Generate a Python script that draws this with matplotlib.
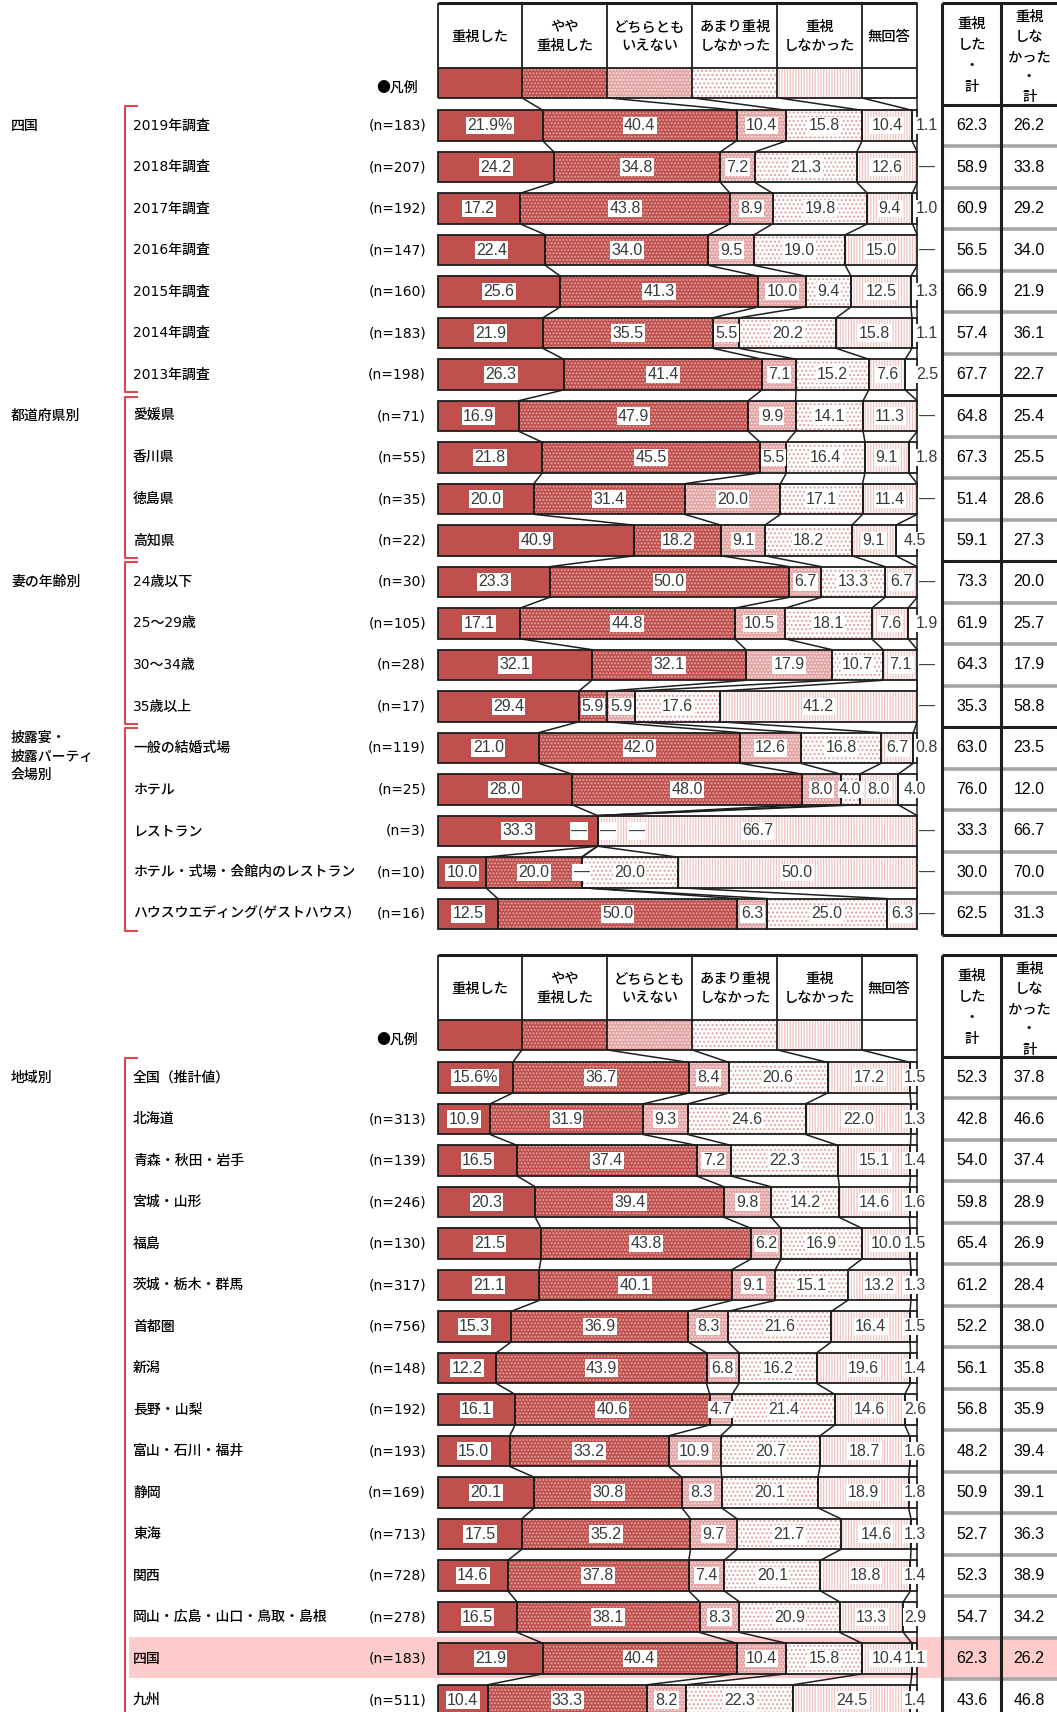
import itertools
import numpy as np
import matplotlib
matplotlib.use("Agg")
import matplotlib.pyplot as plt

plt.rcParams['font.family'] = ['Noto Sans CJK JP', 'DejaVu Sans']
plt.rcParams['hatch.linewidth'] = 0.9

# ---------------- data ----------------
series_names = ["重視した", "やや\n重視した", "どちらとも\nいえない", "あまり重視\nしなかった", "重視\nしなかった", "無回答"]
total_names = ["重視\nした\n・\n計", "重視\nしな\nかった\n・\n計"]

top_labels = ["2019年調査", "2018年調査", "2017年調査", "2016年調査", "2015年調査", "2014年調査", "2013年調査",
              "愛媛県", "香川県", "徳島県", "高知県",
              "24歳以下", "25〜29歳", "30〜34歳", "35歳以上",
              "一般の結婚式場", "ホテル", "レストラン", "ホテル・式場・会館内のレストラン", "ハウスウエディング(ゲストハウス)"]
top_n = ["183", "207", "192", "147", "160", "183", "198", "71", "55", "35", "22",
         "30", "105", "28", "17", "119", "25", "3", "10", "16"]
top_groups = ["四国", "都道府県別", "妻の年齢別", "披露宴・\n披露パーティ\n会場別"]
top_group_sizes = [7, 4, 4, 5]
top_juushi = [21.9, 24.2, 17.2, 22.4, 25.6, 21.9, 26.3, 16.9, 21.8, 20.0, 40.9, 23.3, 17.1, 32.1, 29.4, 21.0, 28.0, 33.3, 10.0, 12.5]
top_yaya = [40.4, 34.8, 43.8, 34.0, 41.3, 35.5, 41.4, 47.9, 45.5, 31.4, 18.2, 50.0, 44.8, 32.1, 5.9, 42.0, 48.0, 0.0, 20.0, 50.0]
top_dochira = [10.4, 7.2, 8.9, 9.5, 10.0, 5.5, 7.1, 9.9, 5.5, 20.0, 9.1, 6.7, 10.5, 17.9, 5.9, 12.6, 8.0, 0.0, 0.0, 6.3]
top_amari = [15.8, 21.3, 19.8, 19.0, 9.4, 20.2, 15.2, 14.1, 16.4, 17.1, 18.2, 13.3, 18.1, 10.7, 17.6, 16.8, 4.0, 0.0, 20.0, 25.0]
top_shinai = [10.4, 12.6, 9.4, 15.0, 12.5, 15.8, 7.6, 11.3, 9.1, 11.4, 9.1, 6.7, 7.6, 7.1, 41.2, 6.7, 8.0, 66.7, 50.0, 6.3]
top_mukaito = [1.1, 0.0, 1.0, 0.0, 1.3, 1.1, 2.5, 0.0, 1.8, 0.0, 4.5, 0.0, 1.9, 0.0, 0.0, 0.8, 4.0, 0.0, 0.0, 0.0]
top_total_yes = [62.3, 58.9, 60.9, 56.5, 66.9, 57.4, 67.7, 64.8, 67.3, 51.4, 59.1, 73.3, 61.9, 64.3, 35.3, 63.0, 76.0, 33.3, 30.0, 62.5]
top_total_no = [26.2, 33.8, 29.2, 34.0, 21.9, 36.1, 22.7, 25.4, 25.5, 28.6, 27.3, 20.0, 25.7, 17.9, 58.8, 23.5, 12.0, 66.7, 70.0, 31.3]

bottom_labels = ["全国（推計値）", "北海道", "青森・秋田・岩手", "宮城・山形", "福島", "茨城・栃木・群馬", "首都圏", "新潟",
                 "長野・山梨", "富山・石川・福井", "静岡", "東海", "関西", "岡山・広島・山口・鳥取・島根", "四国", "九州"]
bottom_n = ["", "313", "139", "246", "130", "317", "756", "148", "192", "193", "169", "713", "728", "278", "183", "511"]
bottom_groups = ["地域別"]
bottom_group_sizes = [16]
bottom_juushi = [15.6, 10.9, 16.5, 20.3, 21.5, 21.1, 15.3, 12.2, 16.1, 15.0, 20.1, 17.5, 14.6, 16.5, 21.9, 10.4]
bottom_yaya = [36.7, 31.9, 37.4, 39.4, 43.8, 40.1, 36.9, 43.9, 40.6, 33.2, 30.8, 35.2, 37.8, 38.1, 40.4, 33.3]
bottom_dochira = [8.4, 9.3, 7.2, 9.8, 6.2, 9.1, 8.3, 6.8, 4.7, 10.9, 8.3, 9.7, 7.4, 8.3, 10.4, 8.2]
bottom_amari = [20.6, 24.6, 22.3, 14.2, 16.9, 15.1, 21.6, 16.2, 21.4, 20.7, 20.1, 21.7, 20.1, 20.9, 15.8, 22.3]
bottom_shinai = [17.2, 22.0, 15.1, 14.6, 10.0, 13.2, 16.4, 19.6, 14.6, 18.7, 18.9, 14.6, 18.8, 13.3, 10.4, 24.5]
bottom_mukaito = [1.5, 1.3, 1.4, 1.6, 1.5, 1.3, 1.5, 1.4, 2.6, 1.6, 1.8, 1.3, 1.4, 2.9, 1.1, 1.4]
bottom_total_yes = [52.3, 42.8, 54.0, 59.8, 65.4, 61.2, 52.2, 56.1, 56.8, 48.2, 50.9, 52.7, 52.3, 54.7, 62.3, 43.6]
bottom_total_no = [37.8, 46.6, 37.4, 28.9, 26.9, 28.4, 38.0, 35.8, 35.9, 39.4, 39.1, 36.3, 38.9, 34.2, 26.2, 46.8]
bottom_highlight = "四国"

# ---------------- layout / style ----------------
FIG_W, FIG_H = 1057, 1712
X0, X1 = 437.9, 917.2
W = X1 - X0
STEP = 41.49
BH = 30.6
HDR_PX = [437.9, 521.9, 607.1, 692.3, 777.4, 861.5, 917.2]
TAB_PX = [942.3, 1001.3, 1057]
NUM_FONT = ['Liberation Sans', 'DejaVu Sans']
TAB_FONT = ['Liberation Sans', 'DejaVu Sans']
LBL_FONT = ['DejaVu Sans', 'Noto Sans CJK JP']
JP_FONT = ['Noto Sans CJK JP', 'DejaVu Sans']
TXT = '#000000'
LINE = '#1e1e1e'
BRACKET = '#E0474C'

STY = [
    dict(color='#C0504D', edgecolor='none', hatch=None),
    dict(color='#C0504D', edgecolor='#E2A8A6', hatch='.....'),
    dict(color='#E3A3A2', edgecolor='#F8E4E4', hatch='.....'),
    dict(color='white', edgecolor='#E29C9B', hatch='....'),
    dict(color='white', edgecolor='#F1C2C2', hatch='||||||'),
    dict(color='white', edgecolor='none', hatch=None),
]


def xp(px):
    return (px - X0) / W * 100.0


fig = plt.figure(figsize=(FIG_W / 100, FIG_H / 100), dpi=100)
ax = fig.add_axes([0, 0, 1, 1])
ax.set_xlim(xp(0), xp(FIG_W))
ax.set_ylim(FIG_H, 0)
ax.axis('off')

HDR = [xp(p) for p in HDR_PX]


def hline(x0px, x1px, y, **kw):
    ax.plot([xp(x0px), xp(x1px)], [y, y], solid_capstyle='butt', **kw)


def vline(xpx, y0, y1, **kw):
    ax.plot([xp(xpx), xp(xpx)], [y0, y1], solid_capstyle='butt', **kw)


def panel(row0, labels, ns, series, tot_yes, tot_no, groups, sizes, mk_px, highlight=None, bottom_open=False):
    n = len(labels)
    yc = row0 + np.arange(n) * STEP
    M = np.array(series, dtype=float)
    norm = M / M.sum(axis=0) * 100.0
    cum = np.vstack([np.zeros(n), np.cumsum(norm, axis=0)])

    hdr_top = row0 - 122.3
    hdr_mid = row0 - 57.5
    leg_bot = row0 - 27.8
    panel_bot = FIG_H + 5 if bottom_open else yc[-1] + STEP / 2

    # highlight band
    if highlight is not None:
        hi = labels.index(highlight)
        ax.axhspan(yc[hi] - 22, yc[hi] + 19, xmin=129 / FIG_W, xmax=1, color='#FFCCCC', lw=0, zorder=0)

    # ---- column header ----
    for k, name in enumerate(series_names):
        ax.text((HDR[k] + HDR[k + 1]) / 2, (hdr_top + hdr_mid) / 2 + 1, name, ha='center', va='center',
                fontsize=10.3, linespacing=1.45, color=TXT, family=JP_FONT, weight='medium', zorder=6)
        ax.barh((hdr_mid + leg_bot) / 2, HDR[k + 1] - HDR[k], left=HDR[k], height=leg_bot - hdr_mid,
                linewidth=0, zorder=2, **STY[k])
    hline(HDR_PX[0], HDR_PX[-1], hdr_top, color=LINE, lw=2.2, zorder=4)
    hline(HDR_PX[0], HDR_PX[-1], hdr_mid, color=LINE, lw=1.3, zorder=4)
    hline(HDR_PX[0], HDR_PX[-1], leg_bot, color=LINE, lw=1.3, zorder=4)
    for p in HDR_PX:
        vline(p, hdr_top, leg_bot, color=LINE, lw=1.3, zorder=4)
    ax.text(xp(418), (hdr_mid + leg_bot) / 2 + 5, "●凡例", ha='right', va='center', fontsize=10,
            color=TXT, family=JP_FONT, weight='medium')

    # ---- bars ----
    for k in range(6):
        m = M[k] > 0
        ax.barh(yc[m], norm[k][m], left=cum[k][m], height=BH, linewidth=0, zorder=2, **STY[k])
        ax.barh(yc[m], norm[k][m], left=cum[k][m], height=BH, fill=False, edgecolor=LINE,
                linewidth=1.3, zorder=3)

    # connectors
    for b in range(1, 7):
        ax.plot([HDR[b], cum[b, 0]], [leg_bot, yc[0] - BH / 2], color=LINE, lw=1.1, zorder=3)
        for i in range(n - 1):
            ax.plot([cum[b, i], cum[b, i + 1]], [yc[i] + BH / 2, yc[i + 1] - BH / 2], color=LINE, lw=1.1, zorder=3)

    # value labels
    lab_kw = dict(ha='center', va='center', fontsize=11.5, family=NUM_FONT, color='#3a3a3a', zorder=6,
                  bbox=dict(boxstyle='square,pad=0.08', fc='white', ec='none'))
    for i in range(n):
        for k in range(5):
            v = M[k, i]
            if v > 0:
                txt = f"{v:.1f}" + ("%" if (i == 0 and k == 0) else "")
                ax.text((cum[k, i] + cum[k + 1, i]) / 2, yc[i], txt, **lab_kw)
        zs = [k for k in range(1, 5) if M[k, i] == 0]
        for pos, grp in itertools.groupby(zs, key=lambda k: round(cum[k, i], 6)):
            grp = list(grp)
            offs = [0.0] if len(grp) == 1 else [-18.5 + 29.0 * j for j in range(len(grp))]
            for o in offs:
                ax.text(pos + o / W * 100, yc[i], "—", **lab_kw)
        v = M[5, i]
        xm = xp(mk_px) if v < 3 else xp(915)
        ax.text(xm, yc[i], f"{v:.1f}" if v > 0 else "—", **lab_kw)

    # ---- left labels ----
    for i in range(n):
        ax.text(xp(133), yc[i], labels[i], ha='left', va='center', fontsize=10, color=TXT,
                family=LBL_FONT, weight='medium')
        if ns[i]:
            ax.text(xp(426), yc[i], f"(n={ns[i]})", ha='right', va='center', fontsize=10, color=TXT,
                    family=LBL_FONT)
    s = 0
    for g, sz in zip(groups, sizes):
        nl = g.count("\n") + 1
        yg = yc[s] if nl == 1 else yc[s] - 11 + (nl - 1) * 19.7 / 2
        ax.text(xp(11), yg, g, ha='left', va='center', fontsize=10, linespacing=1.4, color=TXT,
                family=JP_FONT, weight='medium')
        ytop = yc[s] - 0.47 * STEP
        ybot = yc[s + sz - 1] + 0.42 * STEP
        if bottom_open:
            ybot = FIG_H + 5
        ax.plot([xp(137), xp(124.5), xp(124.5), xp(137)], [ytop, ytop, ybot, ybot],
                color=BRACKET, lw=1.5, zorder=3)
        s += sz

    # ---- totals table ----
    xc1 = xp((TAB_PX[0] + TAB_PX[1]) / 2)
    xc2 = xp((TAB_PX[1] + TAB_PX[2]) / 2)
    ax.text(xc1, hdr_top + 52, total_names[0], ha='center', va='center', fontsize=10.3, linespacing=1.62,
            family=JP_FONT, weight='medium', color=TXT)
    ax.text(xc2, hdr_top + 54, total_names[1], ha='center', va='center', fontsize=10.3, linespacing=1.55,
            family=JP_FONT, weight='medium', color=TXT)
    hline(TAB_PX[0], TAB_PX[2] + 5, hdr_top, color=LINE, lw=2.2, zorder=4)
    hline(TAB_PX[0], TAB_PX[2] + 5, row0 - STEP / 2, color=LINE, lw=2.2, zorder=4)
    bounds = np.cumsum(sizes)[:-1] - 1
    for i in range(n):
        ax.text(xc1, yc[i], f"{tot_yes[i]:.1f}", ha='center', va='center', fontsize=11.5, family=TAB_FONT, color=TXT)
        ax.text(xc2, yc[i], f"{tot_no[i]:.1f}", ha='center', va='center', fontsize=11.5, family=TAB_FONT, color=TXT)
        if i < n - 1:
            yb = (yc[i] + yc[i + 1]) / 2
            if i in bounds:
                hline(TAB_PX[0], TAB_PX[2] + 5, yb, color=LINE, lw=2.2, zorder=4)
            else:
                hline(TAB_PX[0], TAB_PX[2] + 5, yb, color='#A6A6A6', lw=2.6, zorder=4)
    if not bottom_open:
        hline(TAB_PX[0], TAB_PX[2] + 5, panel_bot, color=LINE, lw=2.2, zorder=4)
    for p in TAB_PX[:2]:
        vline(p, hdr_top, panel_bot, color=LINE, lw=2.2, zorder=4)


panel(125.6, top_labels, top_n,
      [top_juushi, top_yaya, top_dochira, top_amari, top_shinai, top_mukaito],
      top_total_yes, top_total_no, top_groups, top_group_sizes, mk_px=927)

panel(1077.7, bottom_labels, bottom_n,
      [bottom_juushi, bottom_yaya, bottom_dochira, bottom_amari, bottom_shinai, bottom_mukaito],
      bottom_total_yes, bottom_total_no, bottom_groups, bottom_group_sizes, mk_px=915,
      highlight=bottom_highlight, bottom_open=True)

fig.savefig("out.png", dpi=100)
